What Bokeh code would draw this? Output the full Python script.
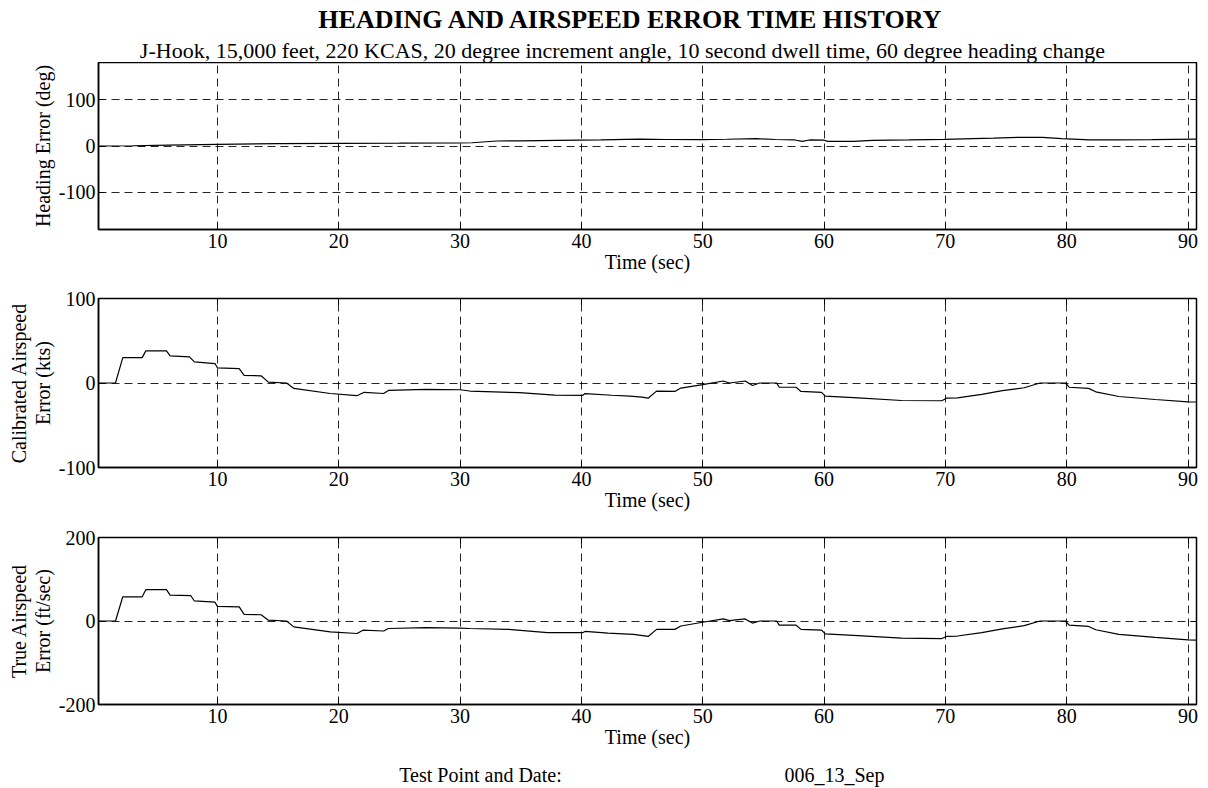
from bokeh.plotting import figure
from bokeh.models import Range1d, FixedTicker, LinearAxis, Label
from bokeh.layouts import column
from bokeh.embed import file_html
from bokeh.resources import INLINE

# ---------------------------------------------------------------- text
title_text = "HEADING AND AIRSPEED ERROR TIME HISTORY"
subtitle_text = ("J-Hook, 15,000 feet, 220 KCAS, 20 degree increment angle, "
                 "10 second dwell time, 60 degree heading change")
x_label = "Time (sec)"
footer_label = "Test Point and Date:"
footer_value = "006_13_Sep"

# ---------------------------------------------------------------- data
time_ticks = [10, 20, 30, 40, 50, 60, 70, 80, 90]
time_start, time_end = 0.2, 90.7

heading_label = "Heading Error (deg)"
heading_ticks = [-100, 0, 100]
heading_limit = 180
heading_t = [0.2, 3, 6, 10, 15, 20, 25, 30, 31, 33, 35, 38, 41.6, 44.8, 47,
             49.9, 52, 54.4, 56, 57.6, 58.2, 58.8, 60, 60.3, 62.4, 64, 67,
             69.9, 73.1, 74, 76.1, 78, 79.6, 81.9, 84, 87, 90.7]
heading_err = [0, 0.5, 2, 3.6, 5, 5.8, 6, 6.5, 7, 10.8, 11, 12, 13, 15, 14,
               13.7, 14.5, 15.8, 14, 13, 10, 13, 12.5, 10, 10, 12.2, 13,
               14.4, 16.5, 17, 18.7, 18.7, 15.8, 13, 13, 13.7, 15]

cas_label = "Calibrated Airspeed\nError (kts)"
cas_ticks = [-100, 0, 100]
cas_limit = 100
cas_t = [0.2, 1.6, 2.2, 3.8, 4.1, 5.8, 6.1, 7.7, 8.1, 9.8, 10.0, 11.8, 12.2,
         13.6, 14.2, 15.7, 16.3, 19.3, 21.5, 22.1, 23.7, 24.1, 27.2, 30.0,
         30.8, 34.9, 37.8, 40.1, 40.3, 42.5, 44.0, 45.0, 45.5, 46.2, 47.7,
         48.2, 50.0, 51.7, 52.2, 53.5, 54.1, 54.7, 56.1, 56.3, 57.7, 58.1,
         59.8, 60.1, 62.8, 66.4, 69.7, 70.1, 71.0, 73.0, 74.7, 76.5, 77.8,
         79.9, 80.2, 81.8, 82.4, 84.3, 87.3, 90.0, 90.7]
cas_err = [0, 0, 30, 30, 38, 38, 32, 31, 25, 23, 18, 17, 9, 8.5, 1, 0, -6.4,
           -12.4, -15, -11, -12.4, -8.8, -7.6, -8, -9.5, -11.5, -14.3, -14.7,
           -12.5, -14.5, -15.5, -16.7, -18, -9.6, -10, -6, -2, 2.4, 0, 2.4,
           -3, 0, 0, -5, -5, -10, -11, -15.5, -17.5, -20.7, -21, -18, -17.5,
           -13.5, -9, -5.6, 0, 0, -5, -6.4, -10.4, -16, -19.5, -22.3, -22.5]

tas_label = "True Airspeed\nError (ft/sec)"
tas_ticks = [-200, 0, 200]
tas_limit = 200
tas_t = [0.2, 1.6, 2.2, 3.8, 4.1, 5.8, 6.1, 7.8, 8.1, 9.8, 10.0, 11.8, 12.2,
         13.6, 14.2, 15.7, 16.3, 19.3, 21.5, 22.0, 23.7, 24.1, 27.2, 30.0,
         30.8, 34.0, 37.2, 40.1, 40.3, 42.2, 44.3, 45.5, 46.2, 47.7, 48.2,
         50.0, 51.7, 52.2, 53.5, 54.1, 54.7, 56.1, 56.3, 57.7, 58.1, 59.8,
         60.1, 62.8, 66.4, 69.7, 70.1, 71.0, 73.0, 74.7, 76.5, 77.8, 79.9,
         80.2, 81.8, 82.4, 84.3, 87.3, 90.0, 90.7]
tas_err = [0, 0, 58, 58, 75, 75, 62, 61, 48, 45, 35, 34, 16, 15, 2, 0, -14,
           -26, -30, -22, -24, -18, -16, -17, -18, -20, -28, -28, -25, -29,
           -32, -37, -20, -20, -12, -3, 5, 1, 5, -5, 0, 0, -10, -10, -20,
           -22, -31, -35, -41, -42, -37, -36, -28, -19, -11, 0, 0, -10, -13,
           -21, -32, -39, -45, -46]

# ---------------------------------------------------------------- style
FONT = "Liberation Serif"
W = 1208
GRID_DASH = "8 5"


def text_strip(height, items):
    """A bare canvas holding only text, laid out in pixel coordinates."""
    p = figure(width=W, height=height, x_range=Range1d(0, W),
               y_range=Range1d(0, height), x_axis_type=None, y_axis_type=None,
               output_backend="svg", toolbar_location=None, min_border=0,
               frame_align=False)
    p.outline_line_color = None
    for x, y, txt, size, style in items:
        p.add_layout(Label(x=x, y=y, text=txt, text_align="center",
                           text_baseline="alphabetic", text_font=FONT,
                           text_font_size=size, text_font_style=style,
                           text_color="black"))
    return p


def hidden_axis(ticks):
    ax = LinearAxis(ticker=FixedTicker(ticks=ticks))
    ax.major_label_overrides = {t: "" for t in ticks}
    ax.major_label_text_font_size = "0px"
    ax.major_label_standoff = 0
    ax.major_tick_in = 6
    ax.major_tick_out = 0
    ax.minor_tick_line_color = None
    ax.axis_line_color = None
    ax.major_tick_line_color = "black"
    return ax


def plain_labels(ticks):
    # ASCII hyphen for negatives
    return {t: ("%d" % t) for t in ticks}


def panel(height, top, limit, ticks, ylabel, t, y, top_ticks=True):
    p = figure(width=W, height=height,
               x_range=Range1d(time_start, time_end),
               y_range=Range1d(-limit, limit),
               output_backend="svg", toolbar_location=None,
               min_border_left=98, min_border_right=12,
               min_border_top=top, min_border_bottom=46)
    p.background_fill_color = "white"
    p.border_fill_color = "white"
    p.outline_line_color = "black"
    p.outline_line_width = 1.5

    p.xaxis.ticker = FixedTicker(ticks=time_ticks)
    p.yaxis.ticker = FixedTicker(ticks=ticks)
    p.xaxis.major_label_overrides = plain_labels(time_ticks)
    p.yaxis.major_label_overrides = plain_labels(ticks)
    p.xaxis.axis_label = x_label
    p.yaxis.axis_label = ylabel
    for ax in (p.xaxis, p.yaxis):
        ax.axis_line_color = "black"
        ax.axis_line_width = 1.5
        ax.major_tick_in = 6
        ax.major_tick_out = 0
        ax.major_tick_line_color = "black"
        ax.minor_tick_line_color = None
        ax.major_label_text_font = FONT
        ax.major_label_text_font_size = "20px"
        ax.major_label_text_color = "black"
        ax.axis_label_text_font = FONT
        ax.axis_label_text_font_size = "20px"
        ax.axis_label_text_font_style = "normal"
        ax.axis_label_text_color = "black"
    p.xaxis.major_label_standoff = 4
    p.xaxis.axis_label_standoff = 0
    p.yaxis.major_label_standoff = 3
    p.yaxis.axis_label_standoff = 2
    p.yaxis.axis_label_text_line_height = 1.1

    p.xgrid.ticker = FixedTicker(ticks=time_ticks)
    p.ygrid.ticker = FixedTicker(ticks=ticks)
    p.grid.grid_line_color = "black"
    p.grid.grid_line_alpha = 0.85
    p.grid.grid_line_width = 1
    p.grid.grid_line_dash = GRID_DASH

    p.add_layout(hidden_axis(ticks), "right")
    if top_ticks:
        p.add_layout(hidden_axis(time_ticks), "above")

    p.line(t, y, line_color="black", line_width=1.2)
    return p


header = text_strip(62, [
    (631, 43, title_text, "26px", "bold"),
    (622, 12, subtitle_text, "22px", "normal"),
])

p1 = panel(213, 0, heading_limit, heading_ticks, heading_label,
           heading_t, heading_err, top_ticks=False)
p2 = panel(238, 23, cas_limit, cas_ticks, cas_label, cas_t, cas_err)
p3 = panel(237, 24, tas_limit, tas_ticks, tas_label, tas_t, tas_err)

footer = text_strip(38, [
    (480, 14, footer_label, "20px", "normal"),
    (834, 14, footer_value, "20px", "normal"),
])

layout = column(header, p1, p2, p3, footer, spacing=0)

open("out.html", "w").write(file_html(layout, INLINE))
